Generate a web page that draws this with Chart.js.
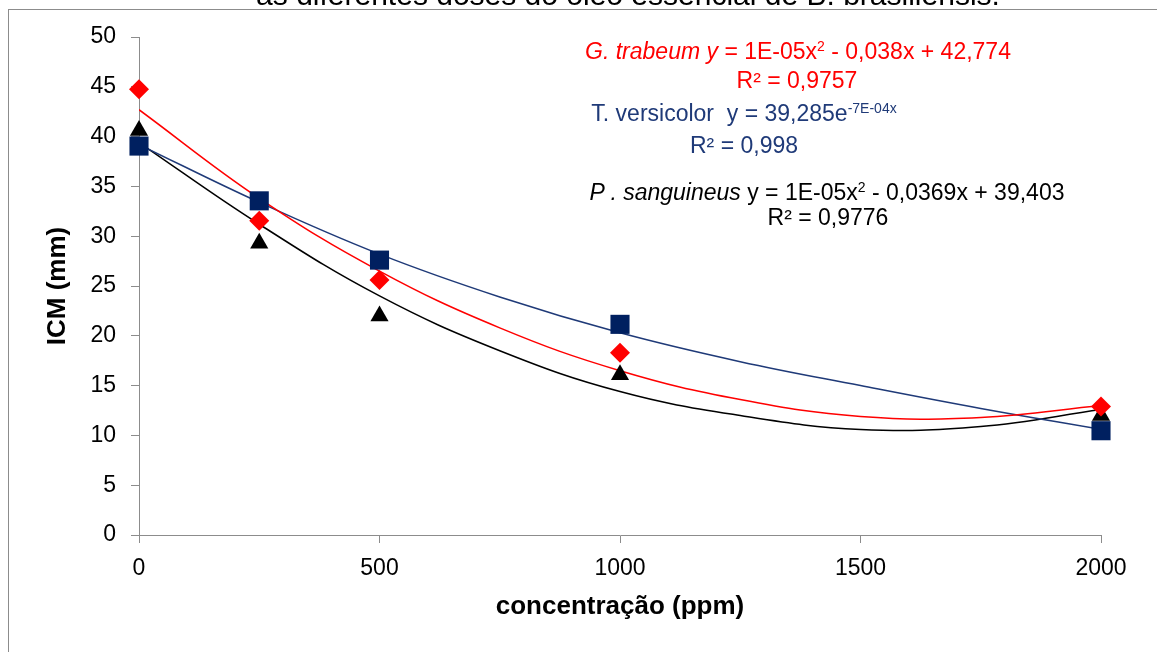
<!DOCTYPE html>
<html>
<head>
<meta charset="utf-8">
<script src="https://cdn.jsdelivr.net/npm/chart.js@4"></script>
<style>
html, body { margin: 0; padding: 0; overflow: hidden; background: #fff; }
#frame { position: absolute; left: 8px; top: 9px; width: 1300px; height: 800px;
  border-left: 1px solid #8c8c8c; border-top: 1px solid #8c8c8c; }
#wrap { position: absolute; left: 0; top: 0; width: 1157px; height: 652px; }
.txt { position: absolute; font-family: "Liberation Sans", Arial, sans-serif; font-size: 23px;
  white-space: nowrap; line-height: 24px; transform: translateX(-50%); }
.txt sup { font-size: 14px; vertical-align: 8px; line-height: 0; }
#title { top: -20px; left: 628px; font-size: 30px; line-height: 30px; }
.red { color: #ff0000; }
.blue { color: #1f3a78; }
.black { color: #000; }
</style>
</head>
<body>
<div id="frame"></div>
<div id="wrap"><canvas id="chart" width="1157" height="652"></canvas></div>
<div class="txt" id="title">as diferentes doses do óleo essencial de B. brasiliensis.</div>
<div class="txt red" style="left:798px; top:39px;"><i>G. trabeum y</i> = 1E-05x<sup>2</sup> - 0,038x + 42,774</div>
<div class="txt red" style="left:797px; top:68px;">R² = 0,9757</div>
<div class="txt blue" style="left:744px; top:101px;">T. versicolor&nbsp; y = 39,285e<sup>-7E-04x</sup></div>
<div class="txt blue" style="left:744px; top:133px;">R² = 0,998</div>
<div class="txt black" style="left:827px; top:180px;"><i>P . sanguineus</i> y = 1E-05x<sup>2</sup> - 0,0369x + 39,403</div>
<div class="txt black" style="left:828px; top:205px;">R² = 0,9776</div>
<script>
// doses (ppm)
const doses = [0, 250, 500, 1000, 2000];

// ICM medido (mm)
const gTrabeum = [44.75, 31.55, 25.6, 18.3, 12.9];
const tVersicolor = [39.05, 33.55, 27.6, 21.15, 10.47];
const pSanguineus = [40.6, 29.3, 22.0, 16.1, 12.0];

// linhas de tendência
const trendX = [0, 250, 500, 750, 1000, 1250, 1500, 1750, 2000];
const trendG = [42.7, 33.8, 26.5, 20.8, 16.5, 13.6, 11.9, 11.8, 13.0];
const trendT = [39.2, 33.4, 28.2, 23.9, 20.3, 17.4, 15.0, 12.7, 10.6];
const trendP = [39.4, 31.2, 24.0, 18.5, 14.4, 12.0, 10.6, 10.9, 12.6];

const xTicks = [0, 500, 1000, 1500, 2000];

const pts = (xs, ys) => xs.map((x, i) => ({ x: x, y: ys[i] }));

function markers(data, color, style, radius) {
  return {
    type: "scatter",
    data: pts(doses, data),
    pointStyle: style,
    pointRadius: radius,
    pointBackgroundColor: color,
    pointBorderColor: color,
    pointBorderWidth: 0,
    showLine: false,
    clip: false
  };
}

function trend(data, color) {
  return {
    type: "line",
    data: pts(trendX, data),
    borderColor: color,
    borderWidth: 1.5,
    pointRadius: 0,
    fill: false,
    tension: 0.4
  };
}

const font = "'Liberation Sans', Arial, sans-serif";

new Chart(document.getElementById("chart"), {
  type: "scatter",
  data: {
    datasets: [
      markers(gTrabeum, "#ff0000", "rectRot", 10),
      markers(tVersicolor, "#002060", "rect", 13.5),
      markers(pSanguineus, "#000000", "triangle", 10.5),
      trend(trendG, "#ff0000"),
      trend(trendT, "#1f3a78"),
      trend(trendP, "#000000")
    ]
  },
  options: {
    responsive: false,
    animation: false,
    events: [],
    layout: { padding: { left: 0, top: 37, right: 56, bottom: 0 } },
    plugins: { legend: { display: false }, tooltip: { enabled: false } },
    scales: {
      x: {
        type: "linear",
        min: 0,
        max: 2000,
        afterFit: s => { s.height = 117; },
        afterBuildTicks: s => { s.ticks = xTicks.map(v => ({ value: v })); },
        border: { color: "#8c8c8c", width: 1 },
        grid: { drawOnChartArea: false, tickLength: 8, color: "#8c8c8c" },
        ticks: { color: "#000", padding: 12, font: { family: font, size: 23 },
          callback: v => String(v) },
        title: {
          display: true,
          text: "concentração (ppm)",
          color: "#000",
          padding: { top: 0, bottom: 30 },
          font: { family: font, size: 26, weight: "bold" }
        }
      },
      y: {
        min: 0,
        max: 50,
        afterFit: s => { s.width = 139; },
        border: { color: "#8c8c8c", width: 1 },
        grid: { drawOnChartArea: false, tickLength: 8, color: "#8c8c8c" },
        ticks: { stepSize: 5, color: "#000", padding: 15, font: { family: font, size: 23 } },
        title: {
          display: true,
          text: "ICM (mm)",
          color: "#000",
          padding: { top: 42, bottom: 0 },
          font: { family: font, size: 26, weight: "bold" }
        }
      }
    }
  }
});
</script>
</body>
</html>
